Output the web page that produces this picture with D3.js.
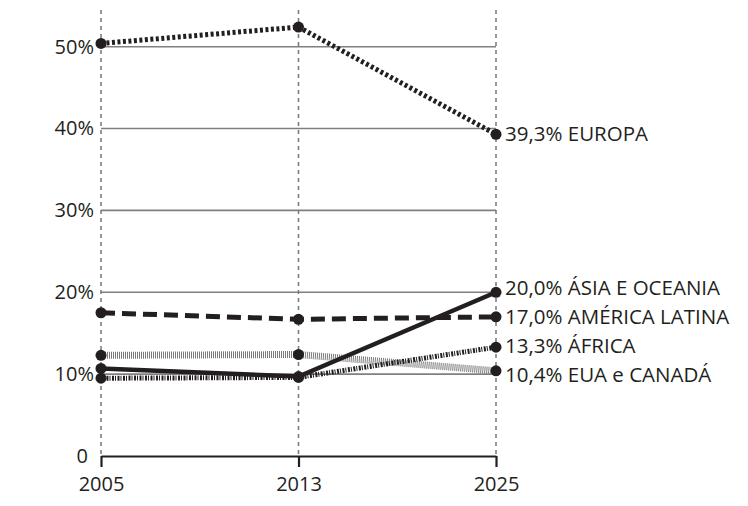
<!DOCTYPE html>
<html>
<head>
<meta charset="utf-8">
<script src="https://cdn.jsdelivr.net/npm/d3@7"></script>
<style>
  body { margin: 0; background: #fff; }
  svg text { font-family: "Open Sans", "Noto Sans", sans-serif; fill: #231f20; }
</style>
</head>
<body>
<svg id="chart" width="748" height="506"></svg>
<script>
// dados
const years = ["2005", "2013", "2025"];
const regions = ["EUROPA", "ÁSIA E OCEANIA", "AMÉRICA LATINA", "ÁFRICA", "EUA e CANADÁ"];
const europa = [50.4, 52.4, 39.3];
const asia = [10.7, 9.7, 20.0];
const americaLatina = [17.5, 16.7, 17.0];
const africa = [9.5, 9.6, 13.3];
const euaCanada = [12.3, 12.4, 10.4];
const yTicks = [0, 10, 20, 30, 40, 50];

const series = [
  {name: regions[4], values: euaCanada, color: "#7a7a7a", width: 7, dash: "1,1"},
  {name: regions[3], values: africa, color: "#231f20", width: 5, dash: "2,1,1,1.5"},
  {name: regions[1], values: asia, color: "#231f20", width: 4.5, dash: null},
  {name: regions[2], values: americaLatina, color: "#231f20", width: 5, dash: "14,7"},
  {name: regions[0], values: europa, color: "#231f20", width: 5, dash: "3,2.5"}
];

const svg = d3.select("#chart");

const x = d3.scalePoint().domain(years).range([101, 496]);
const y = d3.scaleLinear().domain([0, 50]).range([456, 46.7]);
const fmt = v => d3.format(".1f")(v).replace(".", ",");

// grade horizontal
svg.append("g")
   .selectAll("line")
   .data(yTicks.filter(d => d > 0))
   .enter().append("line")
   .attr("x1", x("2005")).attr("x2", x("2025"))
   .attr("y1", d => y(d)).attr("y2", d => y(d))
   .attr("stroke", "#808080")
   .attr("stroke-width", 1.6);

// linhas verticais tracejadas
svg.append("g")
   .selectAll("line")
   .data(years)
   .enter().append("line")
   .attr("x1", d => x(d)).attr("x2", d => x(d))
   .attr("y1", 10).attr("y2", y(0))
   .attr("stroke", "#777")
   .attr("stroke-width", 1.5)
   .attr("stroke-dasharray", "4,4");

// eixo x
const xAxis = svg.append("g")
   .attr("transform", `translate(0,${y(0)})`)
   .call(d3.axisBottom(x).tickSize(11).tickPadding(10).tickSizeOuter(0));
xAxis.select(".domain").attr("stroke", "#231f20").attr("stroke-width", 2.2);
xAxis.selectAll(".tick line").attr("stroke", "#231f20").attr("stroke-width", 2.2);
xAxis.selectAll("text").style("font-size", "20px").attr("fill", "#231f20");

// eixo y
const yAxis = svg.append("g")
   .attr("transform", `translate(${x("2005")},0)`)
   .call(d3.axisLeft(y).tickValues(yTicks).tickSize(0).tickPadding(7)
           .tickFormat(d => d === 0 ? "0" : d + "%"));
yAxis.select(".domain").remove();
yAxis.selectAll("text").style("font-size", "20px").attr("fill", "#231f20")
     .attr("dx", d => d === 0 ? -6 : 0);

// linhas das séries
const line = d3.line()
   .x((d, i) => x(years[i]))
   .y(d => y(d));

svg.append("g")
   .selectAll("path")
   .data(series)
   .enter().append("path")
   .attr("d", d => line(d.values))
   .attr("fill", "none")
   .attr("stroke", d => d.color)
   .attr("stroke-width", d => d.width)
   .attr("stroke-dasharray", d => d.dash);

// pontos
series.forEach(s => {
  svg.append("g")
     .selectAll("circle")
     .data(s.values)
     .enter().append("circle")
     .attr("cx", (d, i) => x(years[i]))
     .attr("cy", d => y(d))
     .attr("r", 5.5)
     .attr("fill", "#231f20");
});

// rótulos finais, afastados para não sobrepor
const labels = series.map(s => ({text: fmt(s.values[2]) + "% " + s.name, v: s.values[2], ly: y(s.values[2])}))
   .sort((a, b) => a.ly - b.ly);
for (let k = 0; k < 50; k++) {
  for (let i = 1; i < labels.length; i++) {
    const gap = labels[i].ly - labels[i - 1].ly;
    if (gap < 29) {
      const push = (29 - gap) / 2;
      labels[i].ly += push;
      labels[i - 1].ly -= push;
    }
  }
}

svg.append("g")
   .selectAll("text")
   .data(labels)
   .enter().append("text")
   .attr("x", x("2025") + 9)
   .attr("y", d => d.ly)
   .attr("dy", "0.35em")
   .style("font-size", "20.5px")
   .text(d => d.text);
</script>
</body>
</html>
